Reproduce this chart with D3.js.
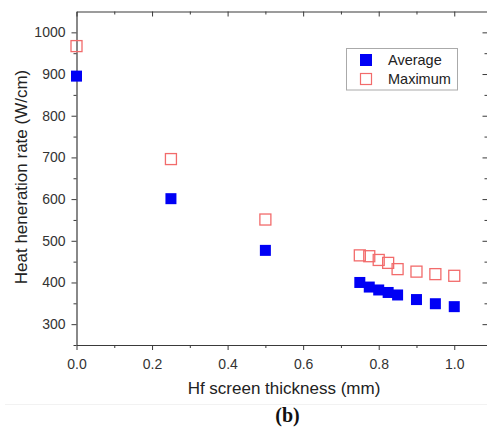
<!DOCTYPE html>
<html>
<head>
<meta charset="utf-8">
<script src="https://cdn.jsdelivr.net/npm/d3@7"></script>
<style>
  body { margin: 0; background: #fff; }
  svg { display: block; font-family: Arial, "Liberation Sans", sans-serif; }
</style>
</head>
<body>
<div class="chart"></div>
<script>
var svgWidth = 487;
var svgHeight = 430;

// data
var thickness = [0.0, 0.25, 0.5, 0.75, 0.775, 0.8, 0.825, 0.85, 0.9, 0.95, 1.0];
var averageRate = [895, 601, 477, 400, 389, 382, 376, 370, 359, 349, 342];
var maximumRate = [967, 696, 551, 465, 463, 454, 447, 432, 426, 420, 416];
var seriesNames = ["Average", "Maximum"];
var xTicks = [0, 0.2, 0.4, 0.6, 0.8, 1.0];
var yTicks = [300, 400, 500, 600, 700, 800, 900, 1000];

var plot = { left: 76.5, right: 487.5, top: 11.5, bottom: 345 };

var svg = d3.select(".chart")
  .append("svg")
  .attr("width", svgWidth)
  .attr("height", svgHeight);

var x = d3.scaleLinear().domain([0, 1.088]).range([plot.left, plot.right]);
var y = d3.scaleLinear().domain([250, 1050]).range([plot.bottom, plot.top]);

var xMinor = d3.range(0.1, 1.08, 0.2);
var yMinor = d3.range(250, 1050, 100);

var axisColor = "#3a3a3a";

function styleAxis(g) {
  g.selectAll("path.domain").attr("stroke", axisColor).attr("stroke-width", 1.2);
  g.selectAll(".tick line").attr("stroke", axisColor).attr("stroke-width", 1);
  g.selectAll(".tick text").attr("fill", "#333").attr("font-size", "14px");
}

// bottom axis (outward ticks)
svg.append("g")
  .attr("transform", `translate(0, ${plot.bottom})`)
  .call(d3.axisBottom(x).tickValues(xTicks).tickSize(5).tickSizeOuter(0).tickPadding(5).tickFormat(d3.format(".1f")))
  .call(styleAxis)
  .call(g => g.selectAll(".tick text").attr("dy", "1em"));
svg.append("g")
  .attr("transform", `translate(0, ${plot.bottom})`)
  .call(d3.axisBottom(x).tickValues(xMinor).tickSize(3).tickSizeOuter(0).tickFormat(""))
  .call(styleAxis)
  .call(g => g.select(".domain").remove());

// top axis (inward ticks)
svg.append("g")
  .attr("transform", `translate(0, ${plot.top})`)
  .call(d3.axisBottom(x).tickValues(xTicks).tickSize(5).tickSizeOuter(0).tickFormat(""))
  .call(styleAxis);
svg.append("g")
  .attr("transform", `translate(0, ${plot.top})`)
  .call(d3.axisBottom(x).tickValues(xMinor).tickSize(3).tickSizeOuter(0).tickFormat(""))
  .call(styleAxis)
  .call(g => g.select(".domain").remove());

// left axis (outward ticks)
svg.append("g")
  .attr("transform", `translate(${plot.left}, 0)`)
  .call(d3.axisLeft(y).tickValues(yTicks).tickSize(5).tickSizeOuter(0).tickPadding(6).tickFormat(d3.format("d")))
  .call(styleAxis);
svg.append("g")
  .attr("transform", `translate(${plot.left}, 0)`)
  .call(d3.axisLeft(y).tickValues(yMinor).tickSize(3).tickSizeOuter(0).tickFormat(""))
  .call(styleAxis)
  .call(g => g.select(".domain").remove());

// right axis (inward ticks)
svg.append("g")
  .attr("transform", `translate(${plot.right}, 0)`)
  .call(d3.axisRight(y).tickValues(yTicks).tickSize(-5).tickSizeOuter(0).tickFormat(""))
  .call(styleAxis);
svg.append("g")
  .attr("transform", `translate(${plot.right}, 0)`)
  .call(d3.axisRight(y).tickValues(yMinor).tickSize(-3).tickSizeOuter(0).tickFormat(""))
  .call(styleAxis)
  .call(g => g.select(".domain").remove());

var side = 11;

// Maximum (hollow red squares)
svg.append("g").selectAll("rect")
  .data(thickness)
  .enter()
  .append("rect")
  .attr("x", (d, i) => x(d) - side / 2)
  .attr("y", (d, i) => y(maximumRate[i]) - side / 2)
  .attr("width", side)
  .attr("height", side)
  .attr("fill", "none")
  .attr("stroke", "#f26b6b")
  .attr("stroke-width", 1.3);

// Average (filled blue squares)
svg.append("g").selectAll("rect")
  .data(thickness)
  .enter()
  .append("rect")
  .attr("x", (d, i) => x(d) - side / 2)
  .attr("y", (d, i) => y(averageRate[i]) - side / 2)
  .attr("width", side)
  .attr("height", side)
  .attr("fill", "#0000f5");

// legend
var legend = svg.append("g");
legend.append("rect")
  .attr("x", 346.5).attr("y", 48.5)
  .attr("width", 111).attr("height", 41.5)
  .attr("fill", "#fff")
  .attr("stroke", "#aaa");
seriesNames.forEach(function(name, i) {
  var cy = 60 + i * 19;
  if (i === 0) {
    legend.append("rect")
      .attr("x", 360).attr("y", cy - 6)
      .attr("width", 12).attr("height", 12)
      .attr("fill", "#0000f5");
  } else {
    legend.append("rect")
      .attr("x", 360.5).attr("y", cy - 5.5)
      .attr("width", 11).attr("height", 11)
      .attr("fill", "none")
      .attr("stroke", "#f26b6b")
      .attr("stroke-width", 1.2);
  }
  legend.append("text")
    .attr("x", 388)
    .attr("y", cy + 5)
    .attr("font-size", "14.5px")
    .attr("fill", "#222")
    .text(name);
});

// axis titles
svg.append("text")
  .attr("x", 284)
  .attr("y", 394)
  .attr("text-anchor", "middle")
  .attr("font-size", "17px")
  .attr("fill", "#222")
  .text("Hf screen thickness (mm)");

svg.append("text")
  .attr("transform", "rotate(-90)")
  .attr("x", -177)
  .attr("y", 27)
  .attr("text-anchor", "middle")
  .attr("font-size", "17px")
  .attr("fill", "#222")
  .text("Heat heneration rate (W/cm)");

// faint separator line
svg.append("line")
  .attr("x1", 5).attr("x2", 487)
  .attr("y1", 404.5).attr("y2", 404.5)
  .attr("stroke", "#f2f2f2");

svg.append("text")
  .attr("x", 287.5)
  .attr("y", 422)
  .attr("text-anchor", "middle")
  .attr("font-family", "'Liberation Serif', 'Times New Roman', serif")
  .attr("font-weight", "bold")
  .attr("font-size", "20px")
  .attr("fill", "#111")
  .text("(b)");
</script>
</body>
</html>
